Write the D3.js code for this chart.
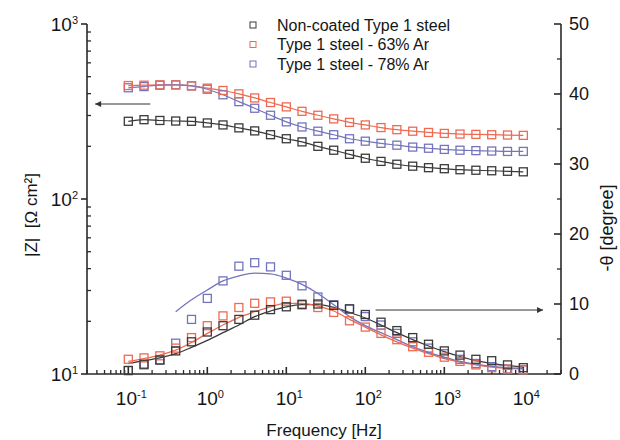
<!DOCTYPE html>
<html>
<head>
	<meta charset="utf-8">
	<script src="https://d3js.org/d3.v7.min.js"></script>
	<style>
		body { margin: 0; background: #fff; }
		text { font-family: "Liberation Sans", Arial, sans-serif; fill: #151515; }
		.axis line, .axis path { stroke: #2a2a2a; }
	</style>
</head>
<body>
<svg width="620" height="440"></svg>
<script>

	// frequencies [Hz]
	var freq = [0.1, 0.158, 0.251, 0.398, 0.631, 1, 1.58, 2.51, 3.98, 6.31, 10, 15.8, 25.1, 39.8, 63.1,
		100, 158, 251, 398, 631, 1000, 1580, 2510, 3980, 6310, 10000];

	// |Z| [ohm cm2]
	var zBlack = [278, 284, 281, 279, 278, 272, 265, 255, 245, 233, 221, 212, 200, 190, 180, 171, 164, 158, 154, 151, 149, 147, 146, 145, 144, 143];
	var zRed   = [445, 447, 449, 449, 443, 430, 417, 399, 378, 356, 336, 317, 301, 287, 274, 265, 256, 249, 244, 240, 237, 235, 234, 233, 232, 231];
	var zBlue  = [432, 439, 447, 449, 443, 424, 394, 360, 330, 301, 276, 258, 244, 233, 221, 214, 208, 203, 198, 195, 192, 190, 189, 188, 187, 187];

	// -theta [degree], measured
	var pBlack = [0.5, 1.4, 2.0, 3.3, 4.6, 6.0, 6.9, 7.8, 8.4, 9.2, 9.6, 9.9, 10.0, 9.8, 9.3, 8.5, 7.4, 6.2, 5.2, 4.25, 3.3, 2.7, 2.1, 1.9, 1.3, 0.9];
	var pRed   = [2.1, 2.3, 2.6, 3.7, 5.2, 6.9, 8.3, 9.5, 10.1, 10.3, 10.4, 10.0, 9.5, 8.8, 7.6, 6.7, 5.8, 4.9, 3.9, 3.1, 2.4, 1.8, 1.3, 0.9, 0.7, 0.6];
	var pBlue  = [0.5, 1.3, 2.0, 4.4, 7.8, 10.8, 13.3, 15.4, 15.9, 15.3, 14.1, 12.6, 11.0, 9.9, 9.3, 8.2, 7.0, 5.8, 4.6, 3.7, 2.9, 2.1, 1.5, 1.05, 0.7, 0.6];

	// -theta fitted curves
	var fBlack = [1.5, 1.9, 2.3, 2.9, 3.8, 4.8, 5.9, 7.0, 8.2, 9.0, 9.6, 9.9, 9.9, 9.5, 8.8, 8.0, 7.0, 5.9, 4.9, 4.0, 3.2, 2.5, 1.9, 1.5, 1.2, 1.0];
	var fRed   = [1.8, 2.2, 2.7, 3.4, 4.5, 5.8, 7.0, 8.1, 8.9, 9.6, 10.1, 10.1, 9.7, 9.0, 7.8, 6.7, 5.6, 4.6, 3.7, 2.9, 2.2, 1.7, 1.3, 1.0, 0.8, 0.7];
	var fBlueFreq = freq.slice(3);
	var fBlue  = [8.9, 10.6, 12.0, 13.3, 14.0, 14.4, 14.3, 13.7, 12.8, 11.5, 9.9, 8.2, 6.9, 5.9, 4.9, 3.9, 3.1, 2.4, 1.8, 1.4, 1.1, 0.9, 0.8];

	var legendNames = ["Non-coated Type 1 steel", "Type 1 steel - 63% Ar", "Type 1 steel - 78% Ar"];
	var colors = ["#3a3a3a", "#ee6a52", "#7474bd"];

	var svg = d3.select("svg"),
		margin = {top: 24, right: 59, bottom: 66, left: 87},
		width = +svg.attr("width") - margin.left - margin.right,
		height = +svg.attr("height") - margin.top - margin.bottom;

	var x = d3.scaleLog().domain([0.03, 30000]).range([0, width]),
		yZ = d3.scaleLog().domain([10, 1000]).range([height, 0]),
		yP = d3.scaleLinear().domain([0, 50]).range([height, 0]);

	var g = svg.append("g")
		.attr("transform", "translate(" + margin.left + "," + margin.top + ")");

	function sup(sel, base, exp) {
		sel.append("tspan").text(base);
		sel.append("tspan").attr("dy", "-0.6em").attr("font-size", "11px").text(exp);
	}

	// bottom axis
	var xMinor = [];
	[0.01, 0.1, 1, 10, 100, 1000, 10000].forEach(function(d) {
		for (var i = 2; i <= 9; i++) {
			var v = d * i;
			if (v >= 0.03 && v <= 30000) xMinor.push(v);
		}
	});
	var xMajor = [0.1, 1, 10, 100, 1000, 10000];
	var xAx = g.append("g").attr("class", "axis").attr("transform", "translate(0," + height + ")");
	xAx.append("line").attr("x1", 0).attr("x2", width).attr("stroke-width", 1.6);
	xAx.selectAll(".mn").data(xMinor).enter().append("line")
		.attr("x1", function(d) { return x(d); }).attr("x2", function(d) { return x(d); })
		.attr("y1", 0).attr("y2", -4).attr("stroke-width", 1.3);
	xAx.selectAll(".mj").data(xMajor).enter().append("line")
		.attr("x1", function(d) { return x(d); }).attr("x2", function(d) { return x(d); })
		.attr("y1", 0).attr("y2", -7).attr("stroke-width", 1.6);
	xAx.selectAll(".lb").data(xMajor).enter().append("text")
		.attr("x", function(d) { return x(d) + 3; })
		.attr("y", 31)
		.attr("text-anchor", "middle")
		.attr("font-size", "19px")
		.each(function(d) { sup(d3.select(this), "10", String(Math.round(Math.log10(d)))); });

	// left axis
	var yMinor = [];
	[10, 100].forEach(function(d) { for (var i = 2; i <= 9; i++) yMinor.push(d * i); });
	var yMajor = [10, 100, 1000];
	var lAx = g.append("g").attr("class", "axis");
	lAx.append("line").attr("y1", 0).attr("y2", height).attr("stroke-width", 1.6);
	lAx.selectAll(".mn").data(yMinor).enter().append("line")
		.attr("y1", function(d) { return yZ(d); }).attr("y2", function(d) { return yZ(d); })
		.attr("x1", 0).attr("x2", 4).attr("stroke-width", 1.3);
	lAx.selectAll(".mj").data(yMajor).enter().append("line")
		.attr("y1", function(d) { return yZ(d); }).attr("y2", function(d) { return yZ(d); })
		.attr("x1", -6).attr("x2", 0).attr("stroke-width", 1.6);
	lAx.selectAll(".lb").data(yMajor).enter().append("text")
		.attr("x", -9)
		.attr("y", function(d) { return yZ(d) + 7; })
		.attr("text-anchor", "end")
		.attr("font-size", "19px")
		.each(function(d) { sup(d3.select(this), "10", String(Math.round(Math.log10(d)))); });

	// right axis
	var pMajor = [0, 10, 20, 30, 40, 50], pMinor = [5, 15, 25, 35, 45];
	var rAx = g.append("g").attr("class", "axis").attr("transform", "translate(" + width + ",0)");
	rAx.append("line").attr("y1", 0).attr("y2", height).attr("stroke-width", 1.6);
	rAx.selectAll(".mn").data(pMinor).enter().append("line")
		.attr("y1", function(d) { return yP(d); }).attr("y2", function(d) { return yP(d); })
		.attr("x1", 0).attr("x2", -4).attr("stroke-width", 1.3);
	rAx.selectAll(".mj").data(pMajor).enter().append("line")
		.attr("y1", function(d) { return yP(d); }).attr("y2", function(d) { return yP(d); })
		.attr("x1", 0).attr("x2", -7).attr("stroke-width", 1.6);
	rAx.selectAll(".lb").data(pMajor).enter().append("text")
		.attr("x", 8)
		.attr("y", function(d) { return yP(d); })
		.attr("dy", "0.36em")
		.attr("font-size", "18px")
		.text(function(d) { return d; });

	// axis titles
	svg.append("text")
		.attr("x", margin.left + 237).attr("y", 436)
		.attr("text-anchor", "middle").attr("font-size", "17px")
		.text("Frequency [Hz]");
	svg.append("text")
		.attr("transform", "translate(37,215) rotate(-90)")
		.attr("text-anchor", "middle").attr("font-size", "17px")
		.attr("xml:space", "preserve")
		.text("|Z|  [Ω cm²]");
	svg.append("text")
		.attr("transform", "translate(613,228) rotate(-90)")
		.attr("text-anchor", "middle").attr("font-size", "18px")
		.text("-θ [degree]");

	// lines
	var zLine = d3.line().curve(d3.curveMonotoneX)
		.x(function(d) { return x(d[0]); }).y(function(d) { return yZ(d[1]); });
	var pLine = d3.line().curve(d3.curveMonotoneX)
		.x(function(d) { return x(d[0]); }).y(function(d) { return yP(d[1]); });

	var zSets = [zBlack, zRed, zBlue], pSets = [pBlack, pRed, pBlue];
	var fits = [d3.zip(freq, fBlack), d3.zip(freq, fRed), d3.zip(fBlueFreq, fBlue)];

	fits.forEach(function(f, i) {
		g.append("path").datum(f).attr("d", pLine)
			.attr("fill", "none").attr("stroke", colors[i]).attr("stroke-width", 1.3);
	});
	zSets.forEach(function(s, i) {
		g.append("path").datum(d3.zip(freq, s)).attr("d", zLine)
			.attr("fill", "none").attr("stroke", colors[i]).attr("stroke-width", 1.2);
	});

	// markers
	var sq = 8;
	[2, 1, 0].forEach(function(i) {
		g.selectAll(".zs" + i).data(d3.zip(freq, zSets[i])).enter().append("rect")
			.attr("x", function(d) { return x(d[0]) - sq / 2; })
			.attr("y", function(d) { return yZ(d[1]) - sq / 2; })
			.attr("width", sq).attr("height", sq)
			.attr("fill", "none").attr("stroke", colors[i]).attr("stroke-width", 1.3);
		g.selectAll(".ps" + i).data(d3.zip(freq, pSets[i])).enter().append("rect")
			.attr("x", function(d) { return x(d[0]) - sq / 2; })
			.attr("y", function(d) { return yP(d[1]) - sq / 2; })
			.attr("width", sq).attr("height", sq)
			.attr("fill", "none").attr("stroke", colors[i]).attr("stroke-width", 1.3);
	});

	// arrows
	svg.append("defs").append("marker")
		.attr("id", "ah").attr("viewBox", "0 0 10 10").attr("refX", 10).attr("refY", 5)
		.attr("markerWidth", 9).attr("markerHeight", 6).attr("orient", "auto")
		.attr("markerUnits", "userSpaceOnUse")
		.append("path").attr("d", "M0,0L10,5L0,10z").attr("fill", "#333");
	g.append("line")
		.attr("x1", x(0.19)).attr("x2", x(0.038))
		.attr("y1", yZ(349)).attr("y2", yZ(349))
		.attr("stroke", "#333").attr("stroke-width", 1).attr("marker-end", "url(#ah)");
	g.append("line")
		.attr("x1", x(135)).attr("x2", x(17800))
		.attr("y1", yP(9.14)).attr("y2", yP(9.14))
		.attr("stroke", "#333").attr("stroke-width", 1).attr("marker-end", "url(#ah)");

	// legend
	var lg = svg.append("g").attr("transform", "translate(253,25)");
	legendNames.forEach(function(n, i) {
		lg.append("rect").attr("x", -3).attr("y", i * 19.5 - 3).attr("width", 6).attr("height", 6)
			.attr("fill", "none").attr("stroke", colors[i]).attr("stroke-width", 1);
		lg.append("text").attr("x", 24).attr("y", i * 19.5).attr("dy", "0.36em")
			.attr("font-size", "16px").text(n);
	});
</script>
</body>
</html>
